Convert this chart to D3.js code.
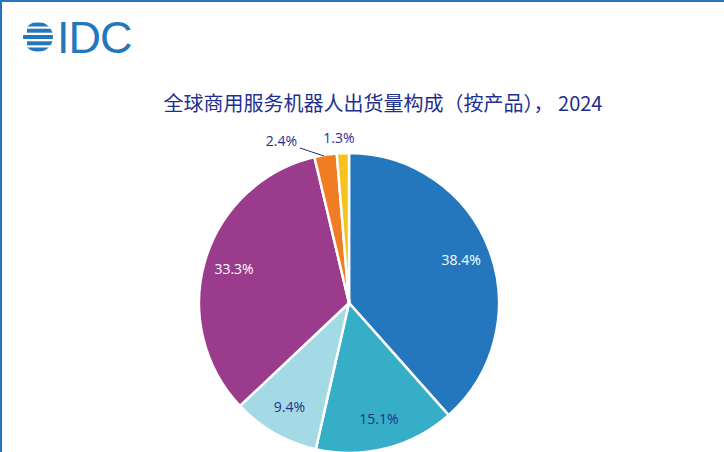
<!DOCTYPE html><html><head><meta charset="utf-8"><script src="https://cdn.jsdelivr.net/npm/d3@7"></script>
<style>body{margin:0;background:#fff}</style></head><body><svg id="c" width="724" height="452"></svg>
<script>
const categories=["A","B","C","D","E","F"];
const values=[38.4,15.1,9.4,33.3,2.4,1.3];
const labels=["38.4%","15.1%","9.4%","33.3%","2.4%","1.3%"];
const colors=["#2477bd","#36aec8","#a4dae5","#9b3b8b","#f07d23","#f5c31b"];
const svg=d3.select("#c");
svg.append("rect").attr("x",1).attr("y",1).attr("width",730).attr("height",460).attr("fill","none").attr("stroke","#2477bd").attr("stroke-width",2);
const lg=svg.append("g");
const cx=38,cy=37,r=15;
lg.append("clipPath").attr("id","lc").append("circle").attr("cx",cx).attr("cy",cy).attr("r",r);
const lgc=lg.append("g").attr("clip-path","url(#lc)");
[-12.5,-6.3,0,6.3,12.5].forEach((o,i)=>{lgc.append("rect").attr("x",cx-r+(i%2?4:0)).attr("y",cy+o-2).attr("width",2*r).attr("height",4).attr("fill","#2477bd");});
lg.append("text").attr("x",57).attr("y",53).attr("font-family","Liberation Sans, Arial").attr("font-size",45).attr("fill","#2477bd").attr("letter-spacing",-1).text("IDC");
svg.append("text").attr("x",383).attr("y",111).attr("text-anchor","middle").attr("font-family","Noto Sans CJK SC").attr("font-size",20).attr("fill","#1f2f8f").text("全球商用服务机器人出货量构成（按产品）， 2024");
const pc=[349,303],R=150;
const pie=d3.pie().sort(null)(values);
const arc=d3.arc().innerRadius(0).outerRadius(R);
const g=svg.append("g").attr("transform",`translate(${pc})`);
g.selectAll("path").data(pie).join("path").attr("d",arc).attr("fill",(d,i)=>colors[i]).attr("stroke","#fff").attr("stroke-width",2.5);
const inner=d3.arc().innerRadius(R*0.8).outerRadius(R*0.8);
const tc=["#fff","#1f2f8f","#1f2f8f","#fff"];
pie.slice(0,4).forEach((d,i)=>{const p=inner.centroid(d);
 g.append("text").attr("x",p[0]).attr("y",p[1]+5).attr("text-anchor","middle").attr("font-family","Open Sans").attr("font-size",14).attr("fill",tc[i]).text(labels[i]);});
svg.append("path").attr("d","M300,148 L324,156").attr("stroke","#1f2f8f").attr("fill","none");
svg.append("text").attr("x",297).attr("y",146).attr("text-anchor","end").attr("font-family","Open Sans").attr("font-size",14).attr("fill","#1f2f8f").text(labels[4]);
svg.append("text").attr("x",339).attr("y",143).attr("text-anchor","middle").attr("font-family","Open Sans").attr("font-size",14).attr("fill","#1f2f8f").text(labels[5]);
</script></body></html>
